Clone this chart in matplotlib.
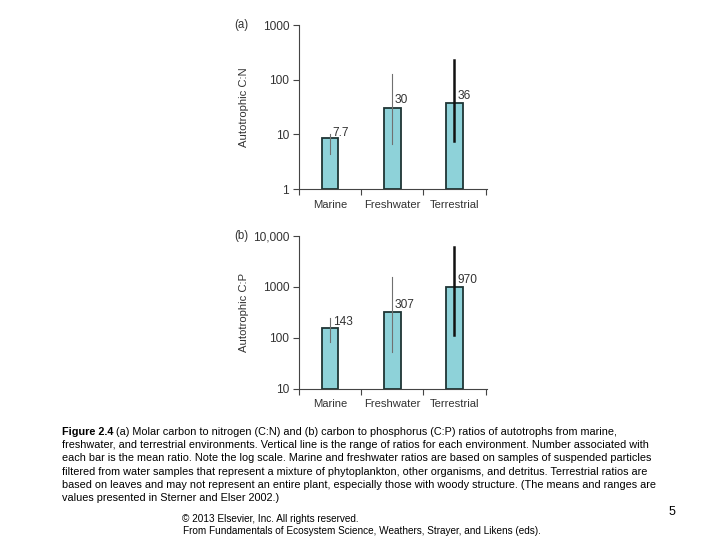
import matplotlib.pyplot as plt
import numpy as np

plt.rcParams['font.family'] = ['Liberation Sans', 'DejaVu Sans']

categories = ["Marine", "Freshwater", "Terrestrial"]

# (a) C:N
cn_mean = [7.7, 30, 36]
cn_low = [4.4, 6.6, 7.6]
cn_high = [10, 130, 230]
cn_labels = ["7.7", "30", "36"]

# (b) C:P
cp_mean = [143, 307, 970]
cp_low = [84, 53, 115]
cp_high = [245, 1580, 6000]
cp_labels = ["143", "307", "970"]

bar_color = '#8ed2d9'
edge_color = '#1f3535'
text_color = '#333333'

fig = plt.figure(figsize=(7.2, 5.4), dpi=100)
fig.patch.set_facecolor('white')


def draw_panel(ax, means, lows, highs, labels, ylim, yticks, yticklabels, ylabel, tag):
    x = np.arange(len(categories))
    ax.bar(x, means, width=0.27, color=bar_color, edgecolor=edge_color,
           linewidth=1.3, bottom=ylim[0], zorder=2)
    # range lines
    widths = [0.8, 0.8, 1.8]
    colors = ['#707070', '#707070', '#111111']
    for i in range(len(x)):
        ax.plot([x[i], x[i]], [lows[i], highs[i]], color=colors[i],
                linewidth=widths[i], zorder=3)
        ax.annotate(labels[i], (x[i], means[i]), xytext=(2, 1.5),
                    textcoords='offset points', fontsize=8.6,
                    color=text_color, ha='left', va='bottom')
    ax.set_yscale('log')
    ax.set_ylim(ylim)
    ax.set_xlim(-0.5, 2.53)
    ax.set_yticks(yticks)
    ax.set_yticklabels(yticklabels, fontsize=8.6, color=text_color)
    ax.yaxis.set_minor_locator(plt.NullLocator())
    ax.set_xticks([-0.5, 0.5, 1.5, 2.5])
    ax.set_xticklabels([])
    for i, c in enumerate(categories):
        ax.text(x[i], -0.1, c, transform=ax.get_xaxis_transform(),
                ha='center', va='center', fontsize=8.1, color=text_color)
    ax.tick_params(axis='both', direction='out', length=4, width=0.8,
                   color='#444444', pad=3)
    for s in ['top', 'right']:
        ax.spines[s].set_visible(False)
    for s in ['left', 'bottom']:
        ax.spines[s].set_color('#444444')
        ax.spines[s].set_linewidth(0.8)
    ax.set_ylabel(ylabel, fontsize=8.1, color=text_color)
    ax.yaxis.set_label_coords(-0.265, 0.5)
    ax.text(-0.34, 1.0, tag, transform=ax.transAxes, fontsize=8.3,
            color=text_color, ha='left', va='center')


ax1 = fig.add_axes([0.415, 0.65, 0.262, 0.303])
draw_panel(ax1, cn_mean, cn_low, cn_high, cn_labels, (1, 1000),
           [1, 10, 100, 1000], ["1", "10", "100", "1000"],
           "Autotrophic C:N", "(a)")

ax2 = fig.add_axes([0.415, 0.28, 0.262, 0.283])
draw_panel(ax2, cp_mean, cp_low, cp_high, cp_labels, (10, 10000),
           [10, 100, 1000, 10000], ["10", "100", "1000", "10,000"],
           "Autotrophic C:P", "(b)")

caption = [
    "(a) Molar carbon to nitrogen (C:N) and (b) carbon to phosphorus (C:P) ratios of autotrophs from marine,",
    "freshwater, and terrestrial environments. Vertical line is the range of ratios for each environment. Number associated with",
    "each bar is the mean ratio. Note the log scale. Marine and freshwater ratios are based on samples of suspended particles",
    "filtered from water samples that represent a mixture of phytoplankton, other organisms, and detritus. Terrestrial ratios are",
    "based on leaves and may not represent an entire plant, especially those with woody structure. (The means and ranges are",
    "values presented in Sterner and Elser 2002.)",
]
cap_size = 7.85
y0 = 432
for k, line in enumerate(caption):
    yy = 1 - (y0 + k * 13.2) / 540
    if k == 0:
        t = fig.text(62 / 720, yy, "Figure 2.4 ", fontsize=cap_size, weight='bold',
                     color='black', va='center', ha='left')
        fig.canvas.draw()
        bb = t.get_window_extent()
        fig.text(bb.x1 / 720, yy, line, fontsize=cap_size, color='black',
                 va='center', ha='left')
    else:
        fig.text(62 / 720, yy, line, fontsize=cap_size, color='black',
                 va='center', ha='left')

fig.text(182 / 720, 1 - 518.5 / 540, "\u00a9 2013 Elsevier, Inc. All rights reserved.",
         fontsize=7.2, color='black', va='center', ha='left')
fig.text(183 / 720, 1 - 531 / 540,
         "From Fundamentals of Ecosystem Science, Weathers, Strayer, and Likens (eds).",
         fontsize=7.2, color='black', va='center', ha='left')
fig.text(672 / 720, 1 - 512 / 540, "5", fontsize=9, color='black',
         va='center', ha='center')

fig.savefig('out.png', dpi=100, facecolor='white')
